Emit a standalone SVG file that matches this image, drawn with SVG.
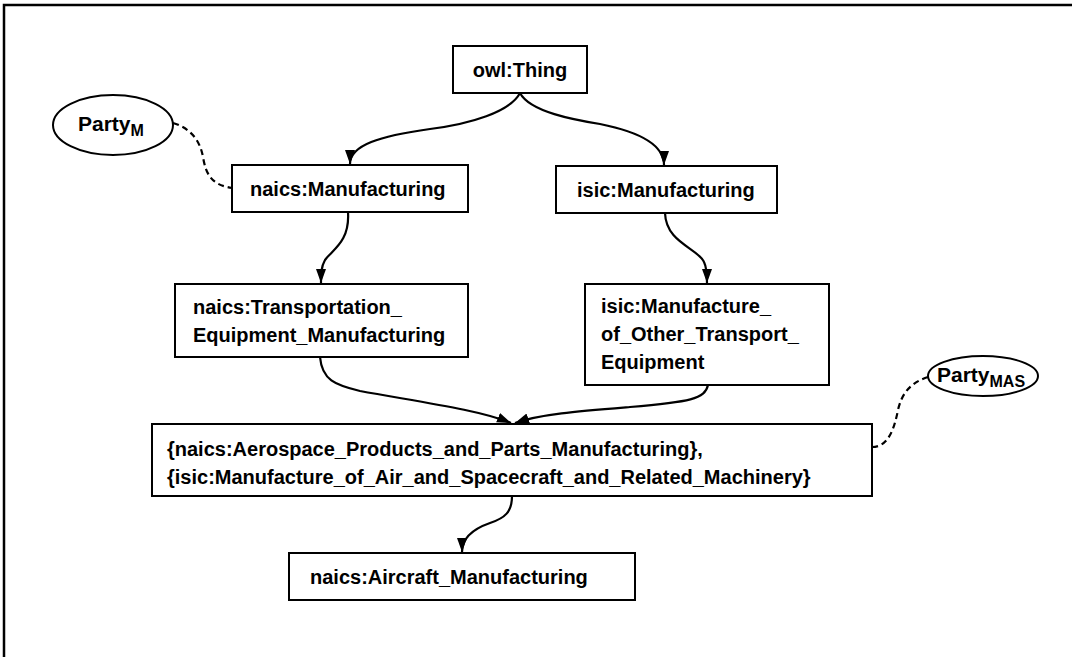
<svg xmlns="http://www.w3.org/2000/svg" width="1072" height="657" viewBox="0 0 1072 657">
  <style>
    .box { fill: #fff; stroke: #000; stroke-width: 2; }
    .lbl { font-family: "Liberation Sans", Arial, sans-serif; font-weight: bold; font-size: 20px; fill: #000; }
    .party { font-size: 21px; }
    .sub { font-size: 16px; }
    .edge { fill: none; stroke: #000; stroke-width: 2.2; }
    .link { fill: none; stroke: #000; stroke-width: 2.2; stroke-dasharray: 6 4; }
  </style>
  <defs>
    <marker id="arrow" markerUnits="userSpaceOnUse" markerWidth="16" markerHeight="14" refX="14" refY="6" orient="auto">
      <path d="M0,1 L14,6 L0,11 Z" fill="#000"/>
    </marker>
  </defs>

  <rect width="1072" height="657" fill="#fff"/>
  <!-- page frame: top and left edges only -->
  <path d="M4,657 L4,5 L1072,5" fill="none" stroke="#000" stroke-width="2.5"/>

  <!-- connectors -->
  <g id="connectors">
    <path class="edge" d="M520,93 C510,112 470,124 430,129 C380,136 350,145 350,164" marker-end="url(#arrow)"/>
    <path class="edge" d="M520,93 C530,112 575,120 600,124 C640,132 664,145 664,165" marker-end="url(#arrow)"/>
    <path class="edge" d="M348,212 C350,242 332,250 325,260 C321,267 321,274 321,283" marker-end="url(#arrow)"/>
    <path class="edge" d="M665,213 C666,243 698,248 704,262 C707,268 707,275 707,283" marker-end="url(#arrow)"/>
    <path class="edge" d="M320,357 C322,380 335,385 360,391 C420,402 480,410 511,423" marker-end="url(#arrow)"/>
    <path class="edge" d="M708,385 C705,399 690,402 630,407 C580,411 540,414 515,423" marker-end="url(#arrow)"/>
    <path class="edge" d="M512,496 C512,512 505,518 490,523 C470,530 462,540 462,552" marker-end="url(#arrow)"/>
    <path class="link" d="M173,123 C190,128 200,140 203,157 C206,175 212,185 232,188"/>
    <path class="link" d="M928,377 C912,382 902,392 898,410 C894,430 888,447 872,447"/>
  </g>

  <g id="owl-thing">
    <rect class="box" x="453" y="46" width="134" height="47"/>
    <text class="lbl" x="520" y="77" text-anchor="middle">owl:Thing</text>
  </g>

  <g id="party-m">
    <ellipse cx="113" cy="125" rx="60" ry="30" fill="#fff" stroke="#000" stroke-width="2"/>
    <text class="lbl party" x="78" y="131">Party<tspan class="sub" dy="5">M</tspan></text>
  </g>

  <g id="naics-manufacturing">
    <rect class="box" x="232" y="165" width="236" height="47"/>
    <text class="lbl" x="250" y="196">naics:Manufacturing</text>
  </g>

  <g id="isic-manufacturing">
    <rect class="box" x="556" y="166" width="221" height="47"/>
    <text class="lbl" x="577" y="197">isic:Manufacturing</text>
  </g>

  <g id="naics-transportation">
    <rect class="box" x="175" y="284" width="293" height="73"/>
    <text class="lbl" x="193" y="314">naics:Transportation_</text>
    <text class="lbl" x="193" y="342">Equipment_Manufacturing</text>
  </g>

  <g id="isic-other-transport">
    <rect class="box" x="585" y="284" width="244" height="101"/>
    <text class="lbl" x="601" y="313">isic:Manufacture_</text>
    <text class="lbl" x="601" y="341">of_Other_Transport_</text>
    <text class="lbl" x="601" y="369">Equipment</text>
  </g>

  <g id="party-mas">
    <ellipse cx="983" cy="376" rx="55" ry="20" fill="#fff" stroke="#000" stroke-width="2"/>
    <text class="lbl party" x="937" y="382">Party<tspan class="sub" dy="5">MAS</tspan></text>
  </g>

  <g id="aerospace">
    <rect class="box" x="152" y="424" width="720" height="72"/>
    <text class="lbl" x="167" y="456">{naics:Aerospace_Products_and_Parts_Manufacturing},</text>
    <text class="lbl" x="167" y="484">{isic:Manufacture_of_Air_and_Spacecraft_and_Related_Machinery}</text>
  </g>

  <g id="aircraft">
    <rect class="box" x="289" y="553" width="346" height="47"/>
    <text class="lbl" x="310" y="584">naics:Aircraft_Manufacturing</text>
  </g>
</svg>
